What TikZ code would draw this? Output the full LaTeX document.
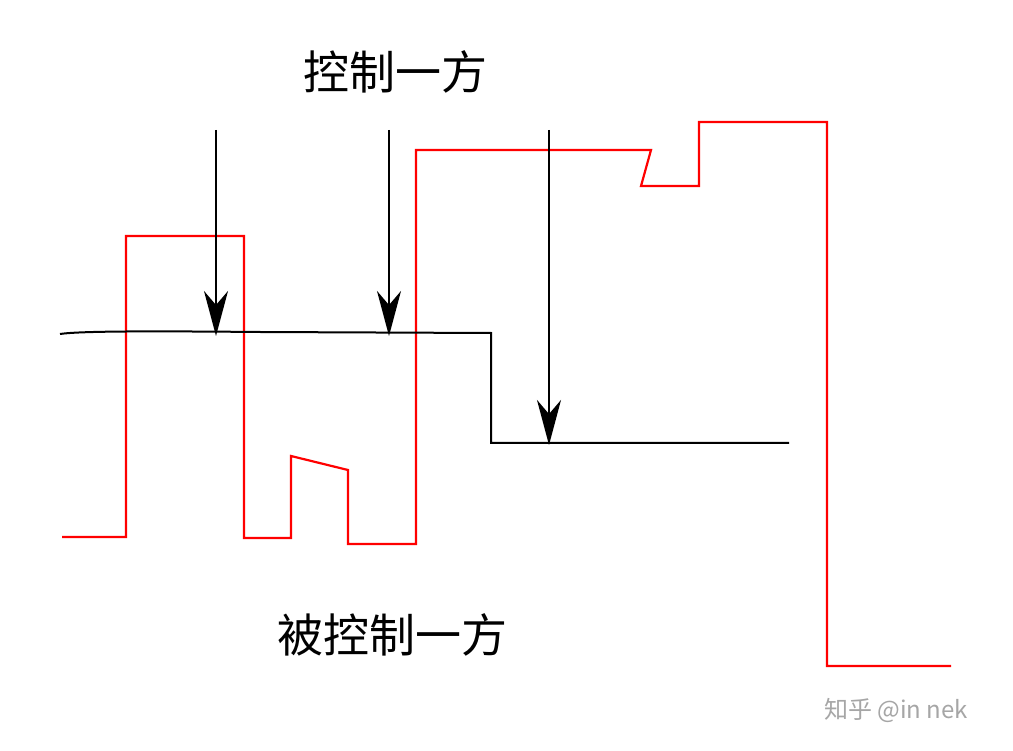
\documentclass[tikz,border=0pt]{standalone}
\usepackage{fontspec}
\newfontfamily\cjk{Noto Sans CJK SC}
\usetikzlibrary{arrows.meta}
\begin{document}
\begin{tikzpicture}[x=1pt,y=-1pt,
  redline/.style={draw=red,line width=2.2pt},
  blackline/.style={draw=black,line width=2pt},
  ctrlarrow/.style={draw=black,line width=2pt,-{Stealth[length=45pt,width=24pt,inset=14pt]}},
  label/.style={font=\cjk\fontsize{46}{50}\selectfont,text=black,inner sep=0pt}]
\useasboundingbox (0,0) rectangle (1013,751);
\fill[white] (0,0) rectangle (1013,751);
\draw[redline,line join=miter] (62,537) -- (126,537) -- (126,236) -- (244,236) -- (244,538) -- (291,538) -- (291,456) -- (348,470) -- (348,544) -- (416,544) -- (416,150) -- (651,150) -- (641,186) -- (699,186) -- (699,122) -- (827,122) -- (827,666) -- (951,666);
\draw[blackline] (60,334) .. controls (80,331) and (150,331) .. (260,332) -- (491,333) -- (491,443) -- (789,443);
\coordinate (s1) at (216,130); \coordinate (e1) at (216,336);
\coordinate (s2) at (389,130); \coordinate (e2) at (389,336);
\coordinate (s3) at (549,130); \coordinate (e3) at (549,445);
\draw[ctrlarrow] (s1) -- (e1);
\draw[ctrlarrow] (s2) -- (e2);
\draw[ctrlarrow] (s3) -- (e3);
\node[label] (top) at (395,72) {控制一方};
\node[label] (bot) at (392,635) {被控制一方};
\node[inner sep=0pt,text=gray!70,font=\cjk\fontsize{24}{28}\selectfont] (wm) at (896,710) {知乎 @in nek};
\end{tikzpicture}
\end{document}
